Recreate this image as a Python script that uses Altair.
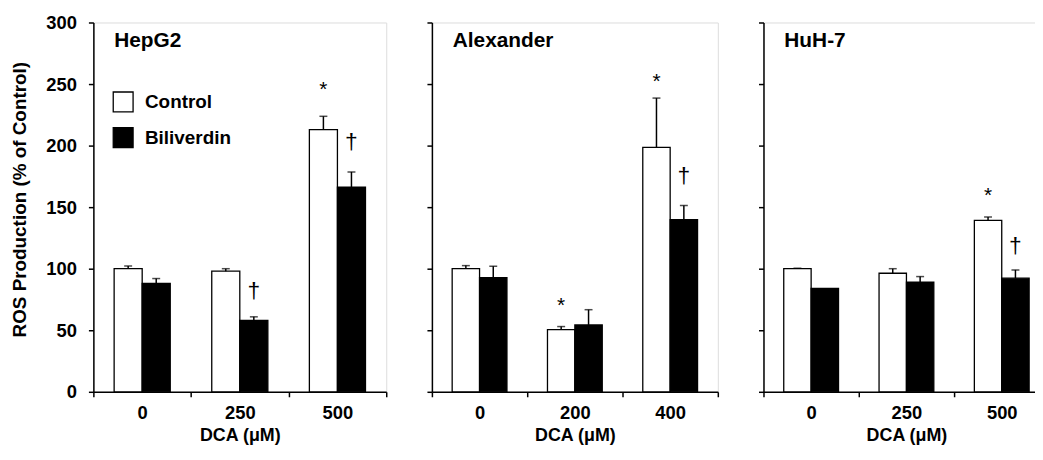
import altair as alt
import pandas as pd

FONT = "Liberation Sans"

panels = ["HepG2", "Alexander", "HuH-7"]
doses = [["0", "250", "500"], ["0", "200", "400"], ["0", "250", "500"]]
groups = ["Control", "Biliverdin"]
control_mean = [[100, 98, 213], [100, 50.5, 198.5], [100, 96.3, 139.3]]
control_err = [[2.2, 2.0, 10.8], [2.5, 2.5, 40.1], [0.4, 3.7, 2.7]]
biliverdin_mean = [[88, 58, 166.3], [92.8, 54.3, 139.9], [84, 89, 92.3]]
biliverdin_err = [[4.0, 2.9, 12.3], [9.2, 12.4, 11.5], [0.0, 4.6, 6.7]]

star_panel = ["HepG2", "Alexander", "Alexander", "HuH-7"]
star_dose = ["500", "200", "400", "500"]
star_y = [249, 73.7, 256, 163]
dagger_panel = ["HepG2", "HepG2", "Alexander", "HuH-7"]
dagger_dose = ["250", "500", "400", "500"]
dagger_y = [82, 203, 175.6, 118.5]

rows = []
for p, name in enumerate(panels):
    for k, dose in enumerate(doses[p]):
        rows.append(dict(panel=name, dose=dose, group="Control",
                         mean=control_mean[p][k], err=control_err[p][k]))
        rows.append(dict(panel=name, dose=dose, group="Biliverdin",
                         mean=biliverdin_mean[p][k], err=biliverdin_err[p][k]))
df = pd.DataFrame(rows)
df["upper"] = df["mean"] + df["err"]

stars = pd.DataFrame(dict(panel=star_panel, dose=star_dose,
                          group=["Control"] * len(star_y), label=["*"] * len(star_y),
                          y=star_y))
daggers = pd.DataFrame(dict(panel=dagger_panel, dose=dagger_dose,
                            group=["Biliverdin"] * len(dagger_y),
                            label=["†"] * len(dagger_y), y=dagger_y))


def make_panel(i, name):
    first = i == 0
    d = df[df.panel == name]
    e = d[d.err > 0]
    s = stars[stars.panel == name]
    g = daggers[daggers.panel == name]
    w = 295 if first else 288

    x = alt.X("dose:N", sort=doses[i],
              scale=alt.Scale(paddingInner=0, paddingOuter=0),
              axis=alt.Axis(title="DCA (μM)", labelAngle=0, tickBand="extent",
                            domainColor="black", domainWidth=1.5,
                            tickColor="black", tickWidth=1.5, tickSize=5,
                            labelFont=FONT, labelFontSize=18.5, labelFontWeight="bold",
                            labelColor="black", labelPadding=7,
                            titleFont=FONT, titleFontSize=18, titleFontWeight="bold",
                            titleColor="black", titlePadding=5))
    xo = alt.XOffset("group:N", sort=groups,
                     scale=alt.Scale(paddingInner=0, paddingOuter=0.74))
    ykw = dict(values=[0, 50, 100, 150, 200, 250, 300], grid=False,
               domainColor="black", domainWidth=1.5,
               tickColor="black", tickWidth=1.5, tickSize=5,
               labelFont=FONT, labelFontSize=18.5, labelFontWeight="bold",
               labelColor="black", labelPadding=12,
               titleFont=FONT, titleFontSize=19, titleFontWeight="bold",
               titleColor="black", titlePadding=16)
    if first:
        yaxis = alt.Axis(title="ROS Production (% of Control)", titleY=178, **ykw)
    else:
        yaxis = alt.Axis(title=None, labels=False, **ykw)
    yscale = alt.Scale(domain=[0, 300], nice=False)

    if first:
        legend = alt.Legend(orient="none", legendX=19, legendY=69, title=None,
                            symbolType="square", symbolSize=400,
                            symbolStrokeColor="black", symbolStrokeWidth=1.3,
                            labelFont=FONT, labelFontSize=19, labelFontWeight="bold",
                            labelColor="black", labelOffset=11, rowPadding=10,
                            padding=0, direction="vertical")
    else:
        legend = None

    bars = alt.Chart(d).mark_bar(stroke="black", strokeWidth=1.3).encode(
        x=x, xOffset=xo,
        y=alt.Y("mean:Q", scale=yscale, axis=yaxis),
        fill=alt.Fill("group:N", sort=groups,
                      scale=alt.Scale(domain=groups, range=["white", "black"]),
                      legend=legend),
    )
    rule = alt.Chart(e).mark_rule(color="black", strokeWidth=1.5).encode(
        x=x, xOffset=xo, y=alt.Y("mean:Q"), y2="upper:Q")
    cap = alt.Chart(e).mark_tick(color="black", thickness=1.5, size=8).encode(
        x=x, xOffset=xo, y=alt.Y("upper:Q"))
    layers = [bars, rule, cap]
    if len(s):
        layers.append(alt.Chart(s).mark_text(font=FONT, fontSize=21, color="black",
                                             baseline="middle", dy=5).encode(
            x=x, xOffset=xo, y=alt.Y("y:Q"), text="label:N"))
    if len(g):
        layers.append(alt.Chart(g).mark_text(font=FONT, fontSize=23, color="black",
                                             baseline="middle").encode(
            x=x, xOffset=xo, y=alt.Y("y:Q"), text="label:N"))
    layers.append(alt.Chart(pd.DataFrame({"panel": [name]})).mark_text(
        font=FONT, fontSize=21, fontWeight="bold", color="black",
        align="left", baseline="middle").encode(
        x=alt.value(21), y=alt.value(19), text="panel:N"))

    return alt.layer(*layers).properties(width=w, height=372)


chart = alt.hconcat(*[make_panel(i, n) for i, n in enumerate(panels)], spacing=37)
chart = chart.resolve_scale(fill="independent", xOffset="independent", x="independent")
chart = chart.properties(padding={"left": 2, "top": 3, "right": -16.5, "bottom": 0})
chart = chart.configure_view(stroke="transparent").configure(background="white")

chart.save("out.html", embed_options={"renderer": "svg", "actions": False})
